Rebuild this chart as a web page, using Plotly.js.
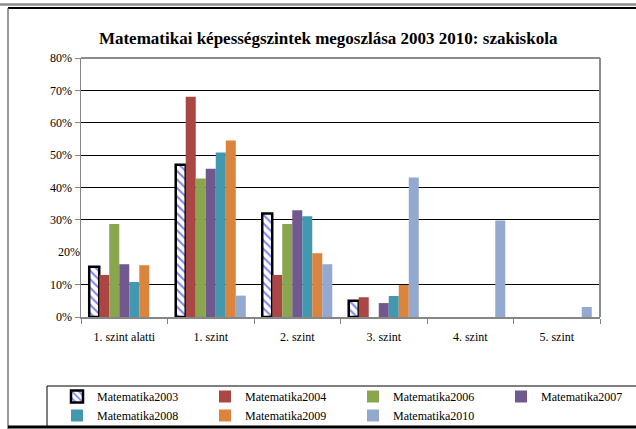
<!DOCTYPE html>
<html>
<head>
<meta charset="utf-8">
<script src="https://cdn.plot.ly/plotly-3.0.1.min.js"></script>
<style>html,body{margin:0;padding:0;background:#fff;}#chart{width:636px;height:429px;}</style>
</head>
<body>
<div id="chart"></div>
<script>
const categories = ["1. szint alatti", "1. szint", "2. szint", "3. szint", "4. szint", "5. szint"];
const seriesNames = ["Matematika2003", "Matematika2004", "Matematika2006", "Matematika2007", "Matematika2008", "Matematika2009", "Matematika2010"];
const mat2003 = [0.155, 0.47, 0.32, 0.05, 0, 0];
const mat2004 = [0.13, 0.68, 0.13, 0.061, 0, 0];
const mat2006 = [0.287, 0.428, 0.287, 0, 0, 0];
const mat2007 = [0.163, 0.458, 0.33, 0.043, 0, 0];
const mat2008 = [0.108, 0.508, 0.311, 0.065, 0, 0];
const mat2009 = [0.16, 0.545, 0.197, 0.099, 0, 0];
const mat2010 = [0, 0.066, 0.163, 0.431, 0.298, 0.031];
const yTickVals = [0, 0.1, 0.3, 0.4, 0.5, 0.6, 0.7, 0.8];
const yTickText = ["0%", "10%", "30%", "40%", "50%", "60%", "70%", "80%"];

const allValues = [mat2003, mat2004, mat2006, mat2007, mat2008, mat2009, mat2010];
const colors = ["#ffffff", "#AA4643", "#89A54E", "#71588F", "#4198AF", "#DB843D", "#93A9CF"];

const traces = allValues.map((vals, i) => {
  const t = {type: "bar", name: seriesNames[i], x: categories, y: vals,
    marker: {color: colors[i], line: {width: 0}}};
  if (i === 0) {
    t.marker = {color: "#ffffff",
      pattern: {shape: "\\", fgcolor: "#7f86f0", bgcolor: "#ffffff", size: 6, solidity: 0.35},
      line: {color: "#000000", width: vals.map(v => v > 0 ? 2.5 : 0)}};
  }
  return t;
});
// invisible helper trace for 20% label on overlay axis
traces.push({type: "scatter", x: [categories[0]], y: [0.2], yaxis: "y2", mode: "none", showlegend: false, hoverinfo: "skip"});

const L = 81, R = 600, T = 58, B = 317;
const px = x => (x - L) / (R - L);
const py = y => (B - y) / (B - T);
function line(x0, y0, x1, y1, color, width) {
  return {type: "line", xref: "paper", yref: "paper", x0: px(x0), y0: py(y0), x1: px(x1), y1: py(y1),
    line: {color: color, width: width}};
}

const serif = "'Liberation Serif', 'DejaVu Serif', serif";
const layout = {
  width: 636, height: 429,
  margin: {l: L, r: 636 - R, t: T, b: 429 - B, autoexpand: false},
  paper_bgcolor: "#ffffff", plot_bgcolor: "#ffffff",
  font: {family: serif, size: 12, color: "#000000"},
  title: {text: "<b>Matematikai képességszintek megoszlása 2003 2010: szakiskola</b>",
    font: {family: serif, size: 17, color: "#000000"}, x: 0.516, xanchor: "center", y: 1 - 38 / 429, yanchor: "middle"},
  barmode: "group", bargap: 0.19, bargroupgap: 0,
  xaxis: {type: "category", showgrid: false, showline: true, linecolor: "#868686", linewidth: 2,
    ticks: "outside", tickson: "boundaries", ticklen: 5, tickcolor: "#868686", tickwidth: 1,
    tickfont: {family: serif, size: 12}, ticklabelstandoff: 8, fixedrange: true},
  yaxis: {range: [0, 0.8], tickvals: yTickVals, ticktext: yTickText, showgrid: true, gridcolor: "#000000", gridwidth: 1,
    showline: true, linecolor: "#868686", linewidth: 1.5, ticks: "outside", ticklen: 5, tickcolor: "#868686",
    tickfont: {family: serif, size: 12}, zeroline: false, fixedrange: true},
  yaxis2: {overlaying: "y", matches: "y", side: "left", range: [0, 0.8], tickvals: [0.2], ticktext: ["20%"],
    showgrid: false, showline: false, ticks: "", tickfont: {family: serif, size: 12}, zeroline: false, fixedrange: true},
  legend: {orientation: "h", xref: "paper", yref: "paper", x: px(57), y: py(382), yanchor: "top", xanchor: "left",
    entrywidth: 103, entrywidthmode: "pixels", font: {family: serif, size: 12}, traceorder: "normal",
    bgcolor: "rgba(0,0,0,0)", itemwidth: 30},
  showlegend: true,
  shapes: [
    line(0, 4.5, 636, 4.5, "#8c8c8c", 2.5),
    line(8, 8, 636, 8, "#000000", 2),
    line(8, 8, 8, 429, "#555555", 1.2),
    line(8, 427, 636, 427, "#000000", 3),
    line(47, 386, 636, 386, "#000000", 1),
    line(47, 386, 47, 426, "#000000", 1),
    line(L, T, R, T, "#8c8c8c", 2),
    line(R, T, R, B, "#8c8c8c", 2)
  ]
};
Plotly.newPlot("chart", traces, layout, {displayModeBar: false, staticPlot: true});
</script>
</body>
</html>
